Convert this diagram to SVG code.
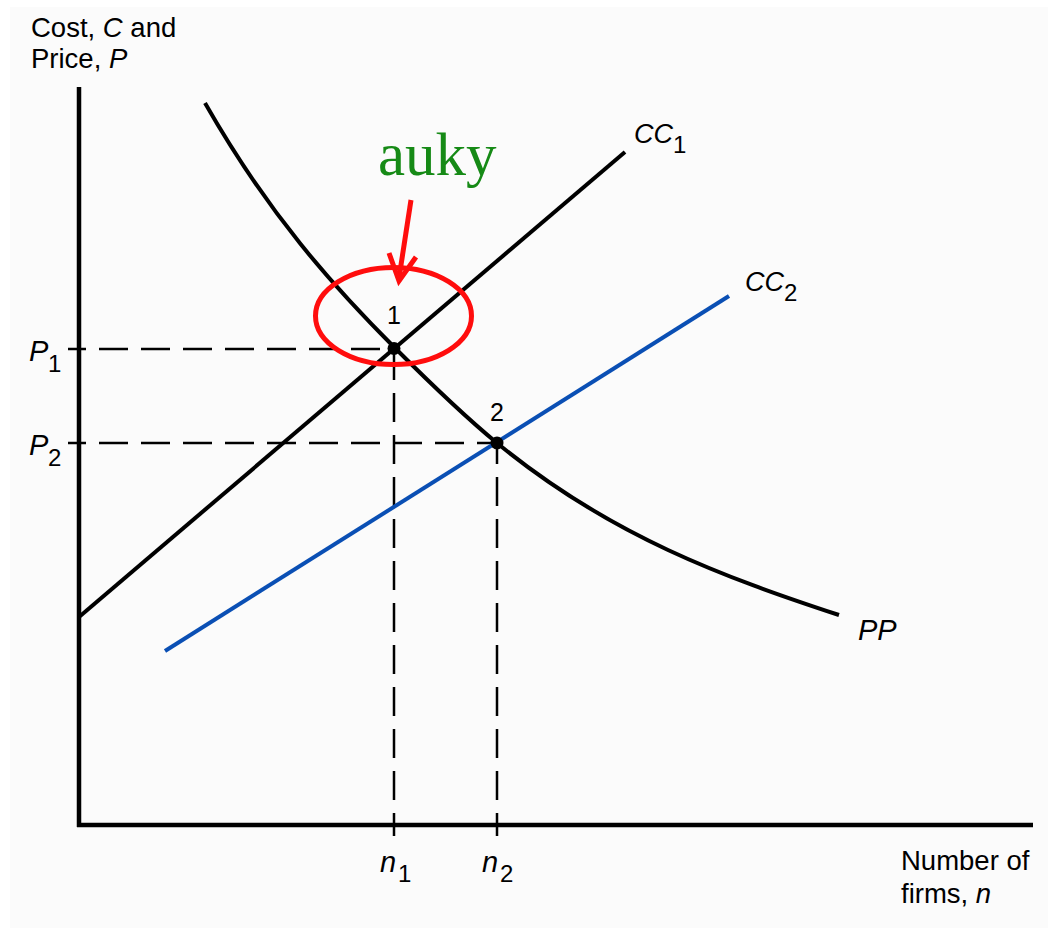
<svg xmlns="http://www.w3.org/2000/svg" width="1048" height="928" viewBox="0 0 1048 928">
<style>
.t{font-family:"Liberation Sans",Arial,sans-serif;fill:#000}
.i{font-style:italic}
.ax{stroke:#000;stroke-width:4.5;fill:none;stroke-linecap:butt}
.crv{stroke:#000;stroke-width:4;fill:none}
.blue{stroke:#0a4fb4;stroke-width:4;fill:none}
.dash{stroke:#000;stroke-width:2.5;fill:none;stroke-dasharray:29 13}
.red{stroke:#ff0d0d;stroke-width:5;fill:none}
</style>
<rect width="1048" height="928" fill="#ffffff"/>
<rect x="10" y="7" width="1038" height="921" fill="#fbfbfb"/>
<g id="axes">
<line class="ax" x1="79" y1="87" x2="79" y2="827"/>
<line class="ax" x1="77" y1="825" x2="1033" y2="825"/>
</g>
<g id="connectors">
<line class="dash" x1="68" y1="349" x2="394" y2="349" stroke-dashoffset="11"/>
<line class="dash" x1="68" y1="443" x2="497" y2="443" stroke-dashoffset="11"/>
<line class="dash" x1="394" y1="836" x2="394" y2="349" stroke-dashoffset="6"/>
<line class="dash" x1="497" y1="836" x2="497" y2="443" stroke-dashoffset="6"/>
<line class="crv" x1="79" y1="617" x2="625" y2="152"/>
<line class="blue" x1="165" y1="651" x2="729" y2="296"/>
<path class="crv" d="M205,103 C268.3,213.8 331.7,284.7 395,348 C429,382 463,415.1 497,443 C611,536.5 725,577.4 839,615"/>
</g>
<g id="point1">
<circle cx="394" cy="348.5" r="6.5" fill="#000"/>
<text class="t" x="394" y="324" font-size="25" text-anchor="middle">1</text>
</g>
<g id="point2">
<circle cx="497" cy="443" r="6.5" fill="#000"/>
<text class="t" x="497" y="421" font-size="25" text-anchor="middle">2</text>
</g>
<g id="labels">
<text class="t" x="31" y="37" font-size="27.5">Cost, <tspan class="i">C</tspan> and</text>
<text class="t" x="31" y="68" font-size="27.5">Price, <tspan class="i">P</tspan></text>
<text class="t i" x="29" y="361" font-size="29">P</text>
<text class="t" x="48" y="372" font-size="24">1</text>
<text class="t i" x="29" y="455" font-size="29">P</text>
<text class="t" x="48" y="466" font-size="24">2</text>
<text class="t i" x="380" y="872" font-size="29">n</text>
<text class="t" x="398" y="882" font-size="24">1</text>
<text class="t i" x="482" y="872" font-size="29">n</text>
<text class="t" x="500" y="882" font-size="24">2</text>
<text class="t i" x="634" y="143" font-size="27">CC</text>
<text class="t" x="673" y="153" font-size="24">1</text>
<text class="t i" x="745" y="291" font-size="27">CC</text>
<text class="t" x="784" y="301" font-size="24">2</text>
<text class="t i" x="858" y="640" font-size="29">PP</text>
<text class="t" x="901" y="870" font-size="27.5">Number of</text>
<text class="t" x="901" y="903" font-size="27.5">firms, <tspan class="i">n</tspan></text>
</g>
<g id="annotation">
<text x="378" y="175" font-family="Liberation Serif,'Times New Roman',serif" font-size="61" fill="#168a16">auky</text>
<ellipse class="red" cx="393.5" cy="316" rx="78" ry="48.5"/>
<line class="red" x1="411" y1="200" x2="399" y2="278"/>
<path class="red" d="M389,253 L399,281 L416,257" stroke-linejoin="miter"/>
</g>
</svg>
